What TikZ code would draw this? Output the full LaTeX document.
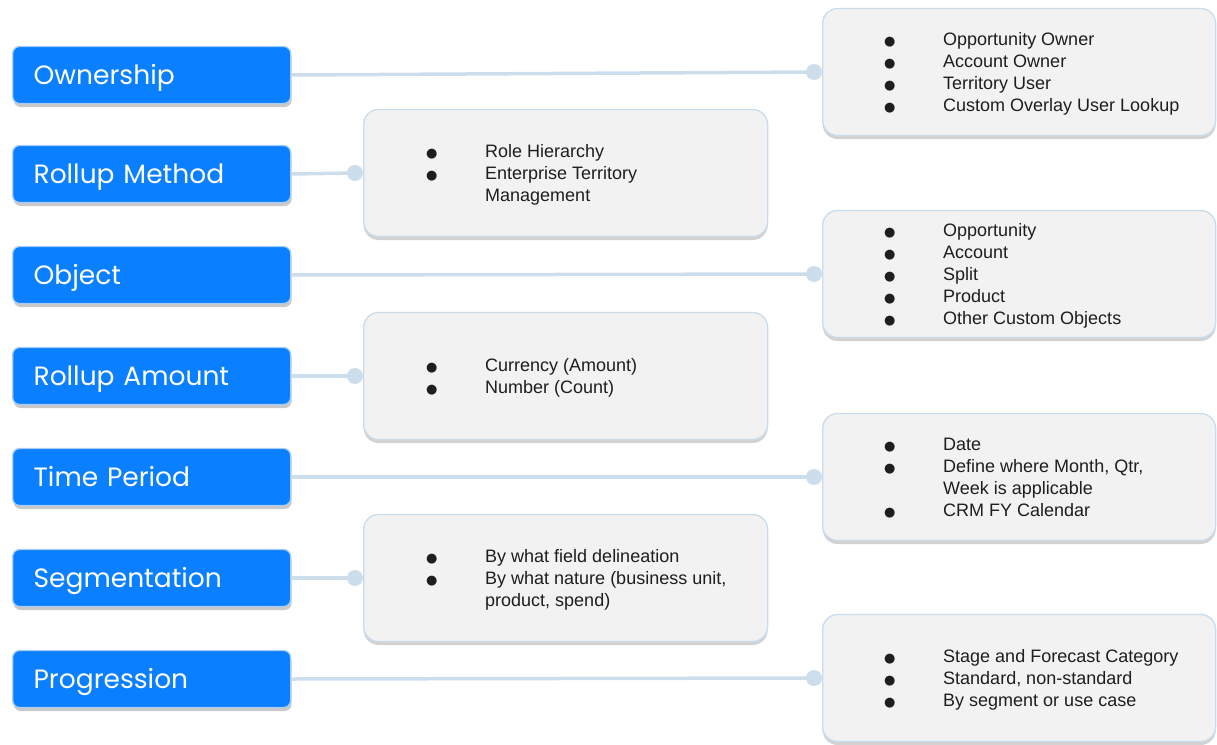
\documentclass[tikz,border=0pt]{standalone}
\usepackage{fontspec}
\setmainfont{Liberation Sans}
\newfontfamily\popfont{Poppins}
\newfontfamily\dejfont{DejaVu Sans}
\usetikzlibrary{shadows,calc}
\definecolor{bluefill}{HTML}{0A7FFF}
\definecolor{blueedge}{HTML}{A8CDF5}
\definecolor{infofill}{HTML}{F2F2F2}
\definecolor{infoedge}{HTML}{C9DCEC}
\definecolor{conncol}{HTML}{CCDDEC}
\definecolor{txtcol}{HTML}{1E1E1E}
\newcommand{\bul}{{\dejfont\fontsize{13}{13}\selectfont ●}}
\newenvironment{blist}{\fontsize{18}{22}\selectfont\begin{tabular}{@{}p{59pt}@{}l@{}}}{\end{tabular}}
\tikzset{
  labbox/.style={draw=blueedge, line width=1.3pt, fill=bluefill, rounded corners=7pt,
    minimum width=278pt, minimum height=57pt, text width=236pt, inner xsep=21pt,
    text height=20.5pt, text depth=2pt,
    align=left, text=white, font=\popfont\fontsize{26.5}{30}\selectfont,
    anchor=west, drop shadow={shadow xshift=1pt, shadow yshift=-3.5pt, opacity=0.3, fill=black!70}},
  infobox/.style={draw=infoedge, line width=1.3pt, fill=infofill, rounded corners=15pt,
    minimum height=127pt, anchor=west,
    drop shadow={shadow xshift=0pt, shadow yshift=-3.5pt, opacity=0.25, fill=black!70}},
  rbox/.style={infobox, minimum width=393pt},
  mbox/.style={infobox, minimum width=404pt},
  conn/.style={draw=conncol, line width=3.5pt},
  dotmark/.style={fill=conncol},
  txt/.style={anchor=west, inner sep=0pt, text=txtcol, align=left}
}
\begin{document}
\begin{tikzpicture}[x=1pt,y=-1pt]
\useasboundingbox (0,0) rectangle (1217,744);
% blue label boxes
\node[labbox] (b1) at (12,75) {Ownership};
\node[labbox] (b2) at (12,174) {Rollup Method};
\node[labbox] (b3) at (12,275) {Object};
\node[labbox] (b4) at (12,376) {Rollup Amount};
\node[labbox] (b5) at (12,477) {Time Period};
\node[labbox] (b6) at (12,578) {Segmentation};
\node[labbox] (b7) at (12,679) {Progression};
% info boxes
\node[rbox] (i1) at (822,72) {};
\node[mbox] (i2) at (363,173) {};
\node[rbox] (i3) at (822,274) {};
\node[mbox] (i4) at (363,376) {};
\node[rbox] (i5) at (822,477) {};
\node[mbox] (i6) at (363,578) {};
\node[rbox] (i7) at (822,678) {};
% connectors
\foreach \k in {1,...,7}{
  \draw[conn] (b\k.east) -- ($(i\k.west)+(-8,0)$);
  \fill[dotmark] ($(i\k.west)+(-8,0)$) circle (8pt);
}
% texts
\node[txt] (t1) at ([xshift=62pt,yshift=-2.5pt]i1.west) {\begin{blist}
\bul & Opportunity Owner\\ \bul & Account Owner\\ \bul & Territory User\\ \bul & Custom Overlay User Lookup\end{blist}};
\node[txt] (t2) at ([xshift=63pt,yshift=-2.5pt]i2.west) {\begin{blist}
\bul & Role Hierarchy\\ \bul & Enterprise Territory\\ & Management\end{blist}};
\node[txt] (t3) at ([xshift=62pt,yshift=-2.5pt]i3.west) {\begin{blist}
\bul & Opportunity\\ \bul & Account\\ \bul & Split\\ \bul & Product\\ \bul & Other Custom Objects\end{blist}};
\node[txt] (t4) at ([xshift=63pt,yshift=-2.5pt]i4.west) {\begin{blist}
\bul & Currency (Amount)\\ \bul & Number (Count)\end{blist}};
\node[txt] (t5) at ([xshift=62pt,yshift=-2.5pt]i5.west) {\begin{blist}
\bul & Date\\ \bul & Define where Month, Qtr,\\ & Week is applicable\\ \bul & CRM FY Calendar\end{blist}};
\node[txt] (t6) at ([xshift=63pt,yshift=-2.5pt]i6.west) {\begin{blist}
\bul & By what field delineation\\ \bul & By what nature (business unit,\\ & product, spend)\end{blist}};
\node[txt] (t7) at ([xshift=62pt,yshift=-2.5pt]i7.west) {\begin{blist}
\bul & Stage and Forecast Category\\ \bul & Standard, non-standard\\ \bul & By segment or use case\end{blist}};
\end{tikzpicture}
\end{document}
